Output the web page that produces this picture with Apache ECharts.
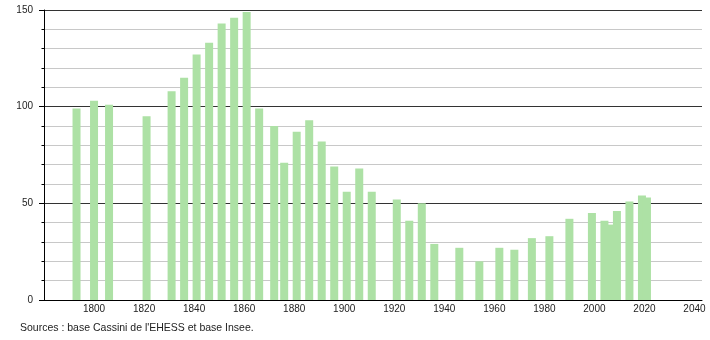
<!DOCTYPE html>
<html>
<head>
<meta charset="utf-8">
<script src="https://cdn.jsdelivr.net/npm/echarts@6/dist/echarts.min.js"></script>
<style>
  html, body { margin: 0; padding: 0; background: #fff; }
  #chart { width: 710px; height: 340px; }
</style>
</head>
<body>
<div id="chart"></div>
<script>
// Census years and population values
var years = [1793, 1800, 1806, 1821, 1831, 1836, 1841, 1846, 1851, 1856,
             1861, 1866, 1872, 1876, 1881, 1886, 1891, 1896, 1901, 1906,
             1911, 1921, 1926, 1931, 1936, 1946, 1954, 1962, 1968, 1975,
             1982, 1990, 1999, 2004, 2007, 2009, 2014, 2019, 2021];
var population = [99, 103, 101, 95, 108, 115, 127, 133, 143, 146,
                  149, 99, 90, 71, 87, 93, 82, 69, 56, 68,
                  56, 52, 41, 50, 29, 27, 20, 27, 26, 32,
                  33, 42, 45, 41, 39, 46, 51, 54, 53];
var xTickLabels = [1800, 1820, 1840, 1860, 1880, 1900, 1920, 1940, 1960, 1980, 2000, 2020, 2040];
var yTickLabels = [0, 50, 100, 150];
var sourceText = "Sources : base Cassini de l'EHESS et base Insee.";

var points = years.map(function (y, i) { return [y, population[i]]; });

var chart = echarts.init(document.getElementById('chart'), null, { renderer: 'canvas' });
var fontFamily = '"Liberation Sans", Arial, sans-serif';

chart.setOption({
  animation: false,
  backgroundColor: '#ffffff',
  grid: { left: 44, right: 8, top: 10, bottom: 40, containLabel: false },
  xAxis: {
    type: 'value',
    min: 1780,
    max: 2043,
    interval: 20,
    axisLine: { show: true, lineStyle: { color: '#000', width: 1 } },
    axisTick: { show: false },
    splitLine: { show: false },
    axisLabel: {
      margin: 4,
      color: '#222',
      fontSize: 10,
      fontFamily: fontFamily,
      showMinLabel: true,
      showMaxLabel: true,
      formatter: function (v) { return xTickLabels.indexOf(v) >= 0 ? String(v) : ''; }
    }
  },
  yAxis: {
    type: 'value',
    min: 0,
    max: 150,
    interval: 50,
    axisLine: { show: true, lineStyle: { color: '#000', width: 1 } },
    axisTick: { show: true, length: 5, lineStyle: { color: '#000' } },
    minorTick: { show: true, splitNumber: 5, length: 2.5, lineStyle: { color: '#000' } },
    splitLine: { show: true, lineStyle: { color: '#333', width: 1 } },
    minorSplitLine: { show: true, lineStyle: { color: '#c8c8c8', width: 1 } },
    axisLabel: {
      margin: 11,
      color: '#222',
      fontSize: 10,
      fontFamily: fontFamily,
      formatter: function (v) { return yTickLabels.indexOf(v) >= 0 ? String(v) : ''; }
    }
  },
  series: [{
    type: 'bar',
    data: points,
    barWidth: 8,
    itemStyle: { color: '#ade1a5' },
    emphasis: { disabled: true }
  }],
  graphic: [{
    type: 'text',
    left: 20,
    top: 323,
    style: {
      text: sourceText,
      fill: '#222',
      font: '10.5px ' + fontFamily
    }
  }]
});
</script>
</body>
</html>
